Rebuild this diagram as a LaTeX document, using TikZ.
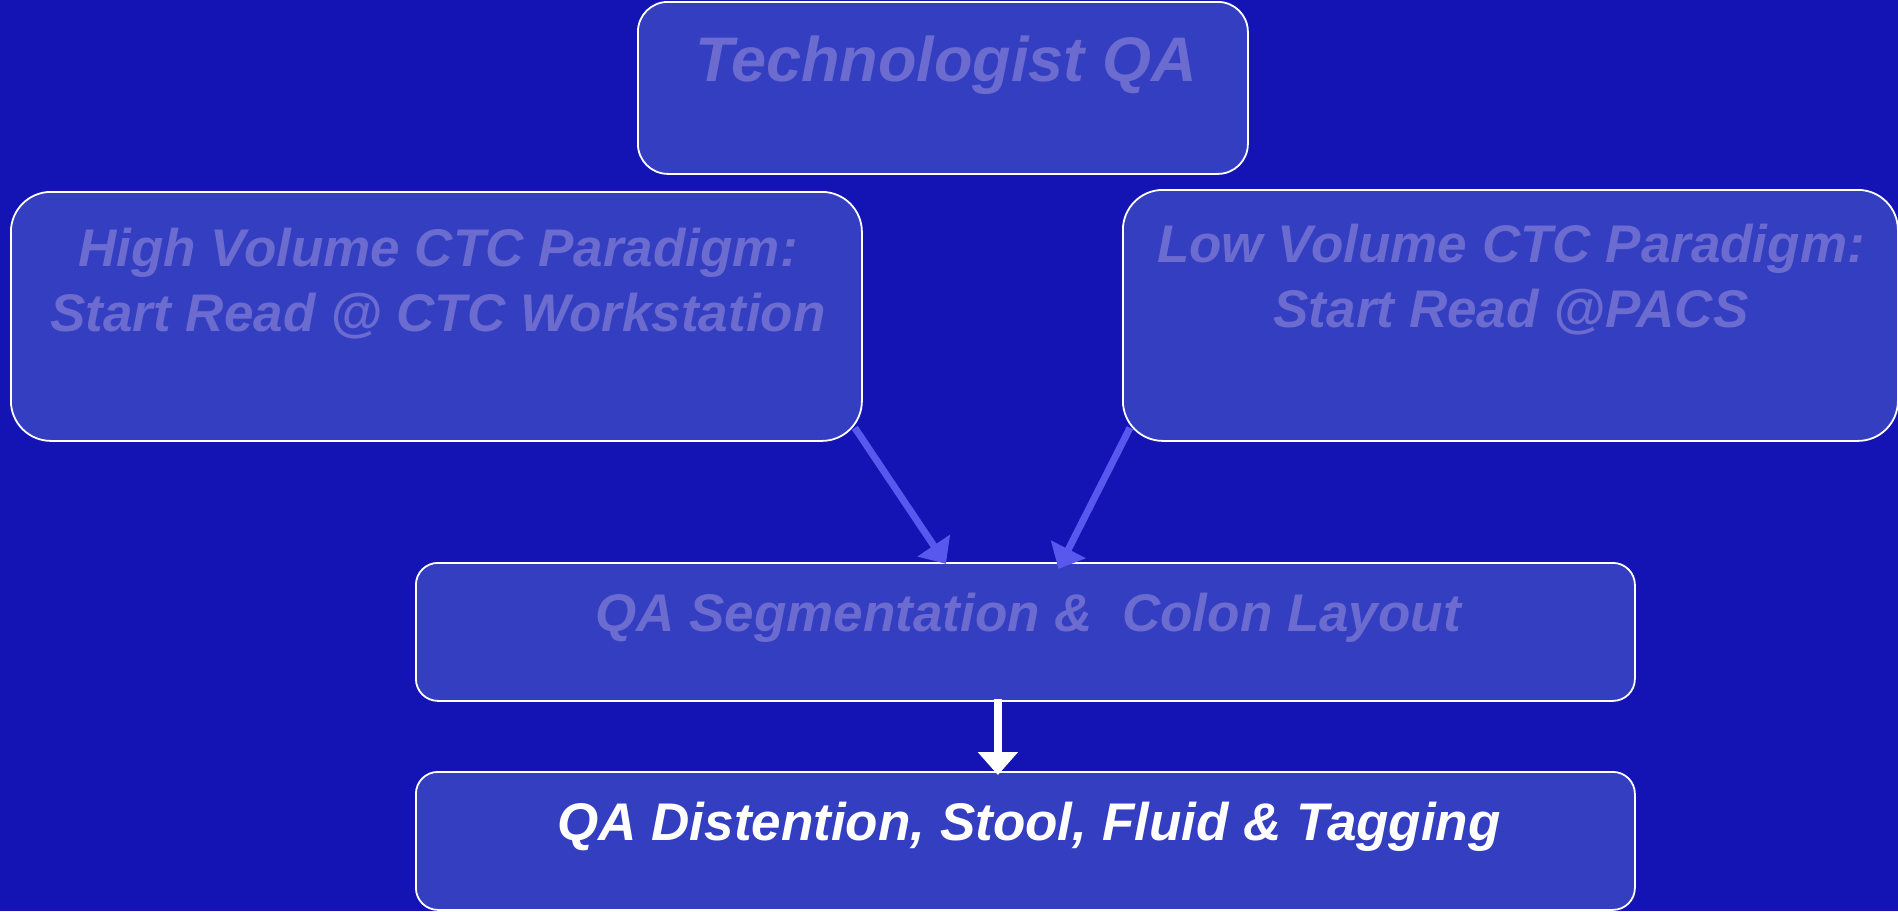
\documentclass[tikz,border=0pt]{standalone}
\usepackage{fontspec}
\setmainfont{Liberation Sans}
\usetikzlibrary{arrows.meta,calc}

\definecolor{slidebg}{RGB}{20,20,180}
\definecolor{boxfill}{RGB}{52,62,192}
\definecolor{dimtext}{RGB}{107,107,208}
\definecolor{flowblue}{RGB}{88,88,238}

\begin{document}
\begin{tikzpicture}[x=1pt,y=-1pt,
  box/.style={draw=white, line width=1.8pt, fill=boxfill, anchor=north west,
    inner sep=0pt, rectangle},
  bigtxt/.style={font=\fontsize{63}{70}\selectfont\bfseries\itshape,
    text=dimtext, inner sep=0pt, anchor=base},
  txt/.style={font=\fontsize{53}{60}\selectfont\bfseries\itshape,
    text=dimtext, inner sep=0pt, anchor=base},
  flow/.style={draw=flowblue, line width=7pt,
    -{Triangle[length=22pt,width=38pt,fill=flowblue]}, shorten >=-1pt},
  down/.style={draw=white, line width=8pt,
    -{Triangle[length=23pt,width=39pt,fill=white]}}
]
% slide background
\fill[slidebg] (0,0) rectangle (1898,911);
\useasboundingbox (0,0) rectangle (1898,911);

% boxes
\node[box, rounded corners=30pt, minimum width=610pt, minimum height=172pt] (tq) at (637,1) {};
\node[box, rounded corners=40pt, minimum width=851pt, minimum height=249pt] (hv) at (10,191) {};
\node[box, rounded corners=40pt, minimum width=775pt, minimum height=251pt] (lv) at (1122,189) {};
\node[box, rounded corners=22pt, minimum width=1219pt, minimum height=138pt] (seg) at (415,562) {};
\node[box, rounded corners=22pt, minimum width=1219pt, minimum height=138pt] (dist) at (415,771) {};

% texts
\node[bigtxt] (tqa) at (946,81) {Technologist QA};
\node[txt] (hva) at (438,266) {High Volume CTC Paradigm:};
\node[txt] (hvb) at (438,331) {Start Read @ CTC Workstation};
\node[txt] (lva) at (1511,262) {Low Volume CTC Paradigm:};
\node[txt] (lvb) at (1511,327) {Start Read @PACS};
\node[txt] (sega) at (1028,631) {QA Segmentation \&\ \ Colon Layout};
\node[txt, text=white] (dista) at (1029,840) {QA Distention, Stool, Fluid \& Tagging};

% connectors
\draw[flow] ($(hv.south east)+(-8,-14)$) -- ($(seg.north)+(-80,1)$);
\draw[flow] ($(lv.south west)+(8,-14)$) -- ($(seg.north)+(33.5,6)$);
\draw[down] ($(seg.south)+(-27.5,-3)$) -- ($(dist.north)+(-27.5,4)$);
\end{tikzpicture}
\end{document}
